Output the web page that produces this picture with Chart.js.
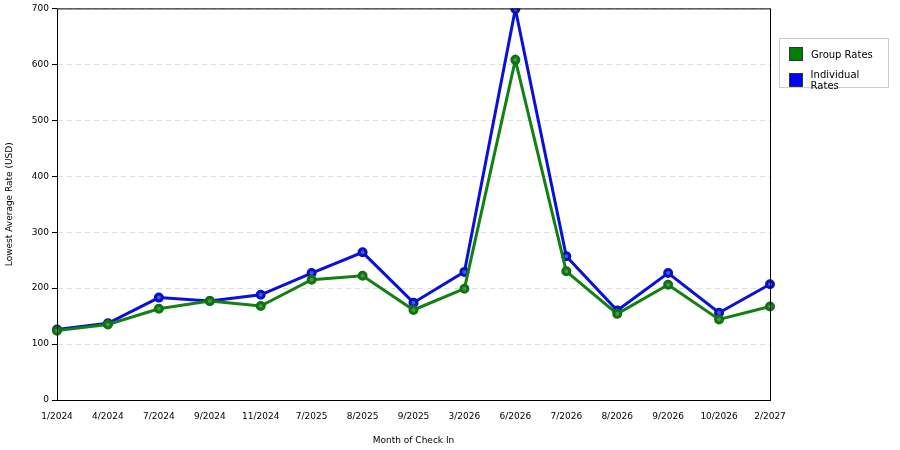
<!DOCTYPE html>
<html><head><script src="https://cdn.jsdelivr.net/npm/chart.js@4"></script>
<style>body{margin:0;background:#fff}#w{position:relative;width:900px;height:450px}
#lg{position:absolute;left:779px;top:38px;width:108px;height:48px;border:1px solid #ccc;font:10px "DejaVu Sans",sans-serif;color:#000}
#lg div{display:flex;align-items:center;margin:8px 0 0 9px}#lg span{display:inline-block;width:12px;height:12px;border:1px solid #333;margin-right:8px}</style></head>
<body><div id="w"><canvas id="c" width="900" height="450"></canvas>
<div id="lg"><div><span style="background:#008000"></span>Group Rates</div><div><span style="background:#0000ff"></span>Individual Rates</div></div></div>
<script>
const categories=["1/2024","4/2024","7/2024","9/2024","11/2024","7/2025","8/2025","9/2025","3/2026","6/2026","7/2026","8/2026","9/2026","10/2026","2/2027"];
const groupRates=[124,135,163,177,168,215,222,161,199,608,230,154,206,144,167];
const individualRates=[126,137,183,177,188,227,264,174,229,699,257,160,227,156,207];
const yTicks=[0,100,200,300,400,500,600,700];
const font={family:"DejaVu Sans",size:9};
const border={id:'b',afterDraw(c){const a=c.chartArea,x=c.ctx;x.save();x.strokeStyle='#000';x.lineWidth=1;x.strokeRect(a.left+.5,a.top+.5,a.right-a.left,a.bottom-a.top);x.restore();}};
new Chart(document.getElementById('c'),{type:'line',
data:{labels:categories,datasets:[
{label:'Group Rates',data:groupRates,borderColor:'#138013',backgroundColor:'#3aa03a',pointBorderColor:'#137013',borderWidth:3,pointRadius:3.5,tension:0},
{label:'Individual Rates',data:individualRates,borderColor:'#0a10d8',backgroundColor:'#3a5cf0',pointBorderColor:'#0a10c0',borderWidth:3,pointRadius:3.5,tension:0}]},
options:{responsive:false,animation:false,layout:{padding:{top:5,right:130,left:0,bottom:0}},
plugins:{legend:{display:false},tooltip:{enabled:false}},
scales:{x:{offset:false,grid:{display:false,drawTicks:true},ticks:{font,color:'#000',maxRotation:0,autoSkip:false},
title:{display:true,text:'Month of Check In',font,color:'#000',padding:{top:4}},afterFit(s){s.height=50}},
y:{min:0,max:700,afterBuildTicks(s){s.ticks=yTicks.map(v=>({value:v}))},grid:{color:'#ddd',borderDash:[5,4],tickColor:'#000',tickLength:5},border:{dash:[5,4]},
ticks:{font,color:'#000'},title:{display:true,text:'Lowest Average Rate (USD)',font,color:'#000'},afterFit(s){s.width=57}}}},
plugins:[border]});
</script></body></html>
